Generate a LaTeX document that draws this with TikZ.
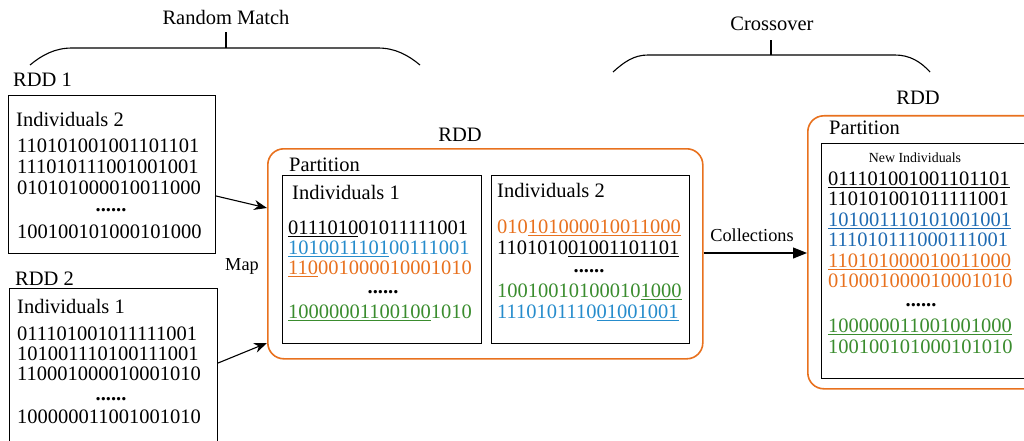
\documentclass[tikz,border=0pt]{standalone}
\usepackage{fontspec}
\setmainfont{Liberation Serif}
\usetikzlibrary{arrows.meta}

\definecolor{orangeC}{RGB}{232,113,30}
\definecolor{blueA}{RGB}{38,140,204}
\definecolor{blueB}{RGB}{30,106,178}
\definecolor{greenC}{RGB}{58,140,46}

% underline with a thicker rule in the current colour
\newsavebox\undlbox
\newcommand\undl[1]{\sbox\undlbox{#1}\rlap{\rule[-2.6pt]{\wd\undlbox}{1.1pt}}\usebox\undlbox\relax}
\newcommand\dotsrow{\textbf{......}}

\tikzset{
  big/.style={font=\fontsize{20.5}{21}\selectfont, inner sep=0pt},
  bin/.style={big, anchor=base west},
  dotline/.style={big, anchor=base, text height=4pt, text depth=0pt},
  midlbl/.style={font=\fontsize{18.3}{20}\selectfont, inner sep=0pt},
  smalllbl/.style={font=\fontsize{13.9}{15}\selectfont, inner sep=0pt},
  blackbox/.style={draw, line width=1.1pt},
  rddbox/.style={draw=orangeC, line width=1.6pt, rounded corners=16pt},
  brace/.style={line width=1.1pt},
  maparrow/.style={line width=1.1pt, -{Stealth[length=13pt,width=10pt]}},
  colarrow/.style={line width=1.1pt, -{Triangle[length=14pt,width=11pt]}}
}

\begin{document}
\begin{tikzpicture}[x=1pt,y=-1pt]
\useasboundingbox (0,0) rectangle (1024,441);

% ---- braces with their titles
\draw[brace] (30,65) .. controls (42,55) and (55,48) .. (72,48) -- (378,48)
  .. controls (395,48) and (408,55) .. (420,65);
\coordinate (rmTip) at (226,32);
\coordinate (rmBase) at (226,48);
\draw[brace] (rmBase) -- (rmTip);
\node[big] (rmTitle) at (226,17) {Random Match};

\draw[brace] (613,72) .. controls (624,62) and (634,55) .. (648,55) -- (895,55)
  .. controls (910,55) and (921,62) .. (930,72);
\coordinate (coTip) at (771,40);
\coordinate (coBase) at (771,55);
\draw[brace] (coBase) -- (coTip);
\node[big] (coTitle) at (772,24) {Crossover};

% ---- RDD 1
\node[big, anchor=base west] (rdd1lbl) at (13,87) {RDD 1};
\node[blackbox, minimum width=207pt, minimum height=158pt, inner sep=0pt, anchor=north west] (rdd1) at (8,95) {};
\node[bin] (r1h) at (16,126) {Individuals 2};
\node[bin] (r1a) at (17,152) {110101001001101101};
\node[bin] (r1b) at (17,173) {111010111001001001};
\node[bin] (r1c) at (17,194) {010101000010011000};
\node[dotline] (r1d) at (111,211) {\dotsrow};
\node[bin] (r1e) at (17,238) {100100101000101000};

% ---- RDD 2
\node[big, anchor=base west] (rdd2lbl) at (15,285) {RDD 2};
\node[blackbox, minimum width=208pt, minimum height=160pt, inner sep=0pt, anchor=north west] (rdd2) at (9,288) {};
\node[bin] (r2h) at (17,313) {Individuals 1};
\node[bin] (r2a) at (17,340) {011101001011111001};
\node[bin] (r2b) at (17,360) {101001110100111001};
\node[bin] (r2c) at (17,380) {110001000010001010};
\node[dotline] (r2d) at (111,400) {\dotsrow};
\node[bin] (r2e) at (17,423) {100000011001001010};

% ---- middle RDD with one partition
\node[big] (mRDDlbl) at (460,135) {RDD};
\node[rddbox, minimum width=435pt, minimum height=210pt, inner sep=0pt, anchor=north west] (mRDD) at (267,148) {};
\node[bin] (mPart) at (289,171) {Partition};

\node[blackbox, minimum width=199pt, minimum height=168pt, inner sep=0pt, anchor=north west] (ind1) at (282,175) {};
\node[bin] (i1h) at (292,199) {Individuals 1};
\node[bin] (i1a) at (288,234) {\undl{0111010}01011111001};
\node[bin, text=blueA] (i1b) at (288,254) {\undl{1010011101}00111001};
\node[bin, text=orangeC] (i1c) at (288,274) {\undl{110}001000010001010};
\node[dotline] (i1d) at (383,293) {\dotsrow};
\node[bin, text=greenC] (i1e) at (288,318) {\undl{10000001100100}1010};

\node[blackbox, minimum width=198pt, minimum height=168pt, inner sep=0pt, anchor=north west] (ind2) at (491,175) {};
\node[bin] (i2h) at (497,197) {Individuals 2};
\node[bin, text=orangeC] (i2a) at (497,233) {010\undl{101000010011000}};
\node[bin] (i2b) at (497,254) {1101010\undl{01001101101}};
\node[dotline] (i2d) at (589,272) {\dotsrow};
\node[bin, text=greenC] (i2c) at (497,297) {10010010100010\undl{1000}};
\node[bin, text=blueA] (i2e) at (497,318) {1110101110\undl{01001001}};

% ---- resulting RDD
\node[big] (rRDDlbl) at (918,98) {RDD};
\node[rddbox, minimum width=240pt, minimum height=273pt, inner sep=0pt, anchor=north west] (rRDD) at (807,115) {};
\node[bin] (rPart) at (829,135) {Partition};
\node[blackbox, minimum width=210pt, minimum height=235pt, inner sep=0pt, anchor=north west] (newind) at (821,143) {};
\node[smalllbl, anchor=base] (nh) at (915,162) {New Individuals};
\node[bin] (n1) at (828,185) {\undl{011101001001101101}};
\node[bin] (n2) at (828,205) {110101001011111001};
\node[bin, text=blueB] (n3) at (828,226) {\undl{101001110101001001}};
\node[bin, text=blueB] (n4) at (828,246) {111010111000111001};
\node[bin, text=orangeC] (n5) at (828,267) {\undl{110101000010011000}};
\node[bin, text=orangeC] (n6) at (828,287) {010001000010001010};
\node[dotline] (nd) at (921,306) {\dotsrow};
\node[bin, text=greenC] (n7) at (828,332) {\undl{100000011001001000}};
\node[bin, text=greenC] (n8) at (828,353) {100100101000101010};

% ---- connectors
\draw[maparrow] (rdd1.east |- 0,196) -- (mRDD.west |- 0,208);
\draw[maparrow] (rdd2.east |- 0,363) -- (mRDD.west |- 0,343);
\node[midlbl] (maplbl) at (242,266) {Map};

\draw[colarrow] (mRDD.east |- 0,253) -- (rRDD.west |- 0,253);
\node[midlbl] (collbl) at (752,235) {Collections};
\end{tikzpicture}
\end{document}
